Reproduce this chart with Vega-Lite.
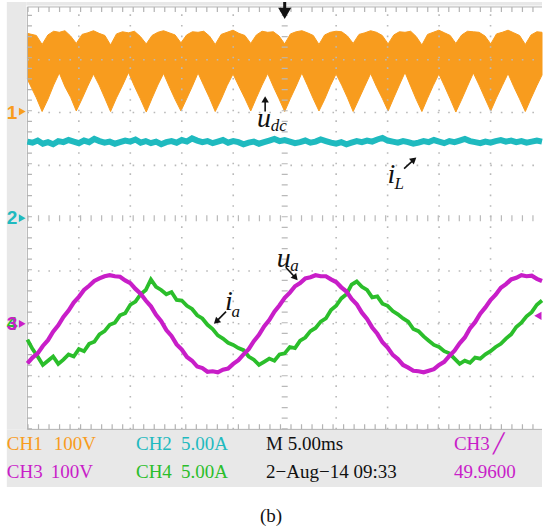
{
  "$schema": "https://vega.github.io/schema/vega-lite/v6.json",
  "width": 554,
  "height": 529,
  "autosize": {"type": "fit", "contains": "padding"},
  "padding": 0,
  "background": "#ffffff",
  "config": {"view": {"stroke": null}},
  "datasets": {
    "udc": [
      {"t":0,"hi":3.50,"lo":2.63},{"t":0.87,"hi":3.46,"lo":2.28},{"t":1.43,"hi":3.29,"lo":2.02},{"t":1.99,"hi":3.47,"lo":2.25},
      {"t":2.55,"hi":3.54,"lo":2.52},{"t":3.10,"hi":3.52,"lo":2.75},{"t":3.65,"hi":3.55,"lo":2.49},{"t":4.20,"hi":3.45,"lo":2.29},
      {"t":4.75,"hi":3.31,"lo":2.03},{"t":5.31,"hi":3.48,"lo":2.26},{"t":5.86,"hi":3.51,"lo":2.50},{"t":6.42,"hi":3.55,"lo":2.73},
      {"t":6.97,"hi":3.50,"lo":2.52},{"t":7.53,"hi":3.46,"lo":2.27},{"t":8.08,"hi":3.28,"lo":2.02},{"t":8.66,"hi":3.49,"lo":2.28},
      {"t":9.24,"hi":3.53,"lo":2.51},{"t":9.82,"hi":3.51,"lo":2.76},{"t":10.40,"hi":3.54,"lo":2.50},{"t":10.98,"hi":3.44,"lo":2.26},
      {"t":11.55,"hi":3.30,"lo":2.01},{"t":12.11,"hi":3.46,"lo":2.27},{"t":12.67,"hi":3.52,"lo":2.52},{"t":13.23,"hi":3.55,"lo":2.74},
      {"t":13.79,"hi":3.51,"lo":2.49},{"t":14.35,"hi":3.47,"lo":2.25},{"t":14.92,"hi":3.32,"lo":2.03},{"t":15.47,"hi":3.47,"lo":2.26},
      {"t":16.03,"hi":3.53,"lo":2.50},{"t":16.58,"hi":3.52,"lo":2.75},{"t":17.14,"hi":3.54,"lo":2.51},{"t":17.69,"hi":3.45,"lo":2.28},
      {"t":18.25,"hi":3.29,"lo":2.02},{"t":18.83,"hi":3.48,"lo":2.25},{"t":19.40,"hi":3.52,"lo":2.51},{"t":19.98,"hi":3.56,"lo":2.73},
      {"t":20.55,"hi":3.50,"lo":2.50},{"t":21.13,"hi":3.46,"lo":2.27},{"t":21.70,"hi":3.31,"lo":2.03},{"t":22.25,"hi":3.47,"lo":2.28},
      {"t":22.80,"hi":3.54,"lo":2.52},{"t":23.35,"hi":3.52,"lo":2.74},{"t":23.90,"hi":3.53,"lo":2.49},{"t":24.45,"hi":3.45,"lo":2.26},
      {"t":25.00,"hi":3.30,"lo":2.02},{"t":25.56,"hi":3.49,"lo":2.27},{"t":26.11,"hi":3.53,"lo":2.50},{"t":26.67,"hi":3.55,"lo":2.75},
      {"t":27.22,"hi":3.51,"lo":2.51},{"t":27.78,"hi":3.46,"lo":2.26},{"t":28.33,"hi":3.29,"lo":2.03},{"t":28.88,"hi":3.47,"lo":2.25},
      {"t":29.44,"hi":3.52,"lo":2.51},{"t":29.99,"hi":3.54,"lo":2.73},{"t":30.54,"hi":3.53,"lo":2.52},{"t":31.10,"hi":3.45,"lo":2.28},
      {"t":31.65,"hi":3.31,"lo":2.02},{"t":32.22,"hi":3.48,"lo":2.26},{"t":32.78,"hi":3.51,"lo":2.50},{"t":33.35,"hi":3.55,"lo":2.74},
      {"t":33.92,"hi":3.52,"lo":2.49},{"t":34.48,"hi":3.46,"lo":2.27},{"t":35.05,"hi":3.30,"lo":2.03},{"t":35.60,"hi":3.47,"lo":2.28},
      {"t":36.14,"hi":3.53,"lo":2.52},{"t":36.69,"hi":3.52,"lo":2.76},{"t":37.24,"hi":3.54,"lo":2.50},{"t":37.78,"hi":3.44,"lo":2.25},
      {"t":38.33,"hi":3.28,"lo":2.02},{"t":38.88,"hi":3.48,"lo":2.27},{"t":39.43,"hi":3.52,"lo":2.51},{"t":39.98,"hi":3.56,"lo":2.73},
      {"t":40.53,"hi":3.51,"lo":2.50},{"t":41.08,"hi":3.46,"lo":2.26},{"t":41.63,"hi":3.31,"lo":2.01},{"t":42.20,"hi":3.47,"lo":2.25},
      {"t":42.76,"hi":3.54,"lo":2.50},{"t":43.33,"hi":3.53,"lo":2.75},{"t":43.89,"hi":3.52,"lo":2.52},{"t":44.46,"hi":3.45,"lo":2.27},
      {"t":45.02,"hi":3.30,"lo":2.03},{"t":45.58,"hi":3.49,"lo":2.28},{"t":46.14,"hi":3.52,"lo":2.51},{"t":46.70,"hi":3.56,"lo":2.74},
      {"t":47.26,"hi":3.51,"lo":2.49},{"t":47.82,"hi":3.46,"lo":2.26},{"t":48.38,"hi":3.29,"lo":2.02},{"t":48.94,"hi":3.47,"lo":2.27},
      {"t":49.50,"hi":3.53,"lo":2.51},{"t":50.00,"hi":3.52,"lo":2.71}
    ],
    "iL": [
      {"t":0,"v":1.45},{"t":0.5,"v":1.43},{"t":1,"v":1.47},{"t":1.5,"v":1.41},{"t":2,"v":1.44},{"t":2.5,"v":1.40},{"t":3,"v":1.46},{"t":3.5,"v":1.44},{"t":4,"v":1.48},{"t":4.5,"v":1.45},
      {"t":5,"v":1.42},{"t":5.5,"v":1.47},{"t":6,"v":1.44},{"t":6.5,"v":1.50},{"t":7,"v":1.46},{"t":7.5,"v":1.43},{"t":8,"v":1.45},{"t":8.5,"v":1.41},{"t":9,"v":1.44},{"t":9.5,"v":1.47},
      {"t":10,"v":1.45},{"t":10.5,"v":1.49},{"t":11,"v":1.43},{"t":11.5,"v":1.46},{"t":12,"v":1.42},{"t":12.5,"v":1.45},{"t":13,"v":1.40},{"t":13.5,"v":1.44},{"t":14,"v":1.46},{"t":14.5,"v":1.43},
      {"t":15,"v":1.48},{"t":15.5,"v":1.45},{"t":16,"v":1.51},{"t":16.5,"v":1.47},{"t":17,"v":1.44},{"t":17.5,"v":1.46},{"t":18,"v":1.42},{"t":18.5,"v":1.45},{"t":19,"v":1.48},{"t":19.5,"v":1.43},
      {"t":20,"v":1.46},{"t":20.5,"v":1.44},{"t":21,"v":1.40},{"t":21.5,"v":1.43},{"t":22,"v":1.45},{"t":22.5,"v":1.41},{"t":23,"v":1.44},{"t":23.5,"v":1.47},{"t":24,"v":1.50},{"t":24.5,"v":1.46},
      {"t":25,"v":1.48},{"t":25.5,"v":1.45},{"t":26,"v":1.42},{"t":26.5,"v":1.44},{"t":27,"v":1.47},{"t":27.5,"v":1.43},{"t":28,"v":1.45},{"t":28.5,"v":1.49},{"t":29,"v":1.46},{"t":29.5,"v":1.43},
      {"t":30,"v":1.41},{"t":30.5,"v":1.44},{"t":31,"v":1.40},{"t":31.5,"v":1.43},{"t":32,"v":1.46},{"t":32.5,"v":1.44},{"t":33,"v":1.47},{"t":33.5,"v":1.45},{"t":34,"v":1.49},{"t":34.5,"v":1.52},
      {"t":35,"v":1.47},{"t":35.5,"v":1.45},{"t":36,"v":1.43},{"t":36.5,"v":1.46},{"t":37,"v":1.44},{"t":37.5,"v":1.41},{"t":38,"v":1.43},{"t":38.5,"v":1.46},{"t":39,"v":1.44},{"t":39.5,"v":1.48},
      {"t":40,"v":1.45},{"t":40.5,"v":1.42},{"t":41,"v":1.46},{"t":41.5,"v":1.44},{"t":42,"v":1.47},{"t":42.5,"v":1.50},{"t":43,"v":1.46},{"t":43.5,"v":1.44},{"t":44,"v":1.42},{"t":44.5,"v":1.45},
      {"t":45,"v":1.43},{"t":45.5,"v":1.46},{"t":46,"v":1.48},{"t":46.5,"v":1.45},{"t":47,"v":1.47},{"t":47.5,"v":1.44},{"t":48,"v":1.46},{"t":48.5,"v":1.43},{"t":49,"v":1.45},{"t":49.5,"v":1.47},
      {"t":50,"v":1.45}
    ],
    "ua": [
      {"t":0,"v":-2.75},{"t":0.5,"v":-2.64},{"t":1,"v":-2.56},{"t":1.5,"v":-2.42},{"t":2,"v":-2.31},{"t":2.5,"v":-2.15},{"t":3,"v":-2.03},{"t":3.5,"v":-1.87},{"t":4,"v":-1.75},{"t":4.5,"v":-1.60},
      {"t":5,"v":-1.49},{"t":5.5,"v":-1.36},{"t":6,"v":-1.28},{"t":6.5,"v":-1.19},{"t":7,"v":-1.14},{"t":7.5,"v":-1.10},{"t":8,"v":-1.08},{"t":8.5,"v":-1.10},{"t":9,"v":-1.11},{"t":9.5,"v":-1.18},
      {"t":10,"v":-1.23},{"t":10.5,"v":-1.34},{"t":11,"v":-1.43},{"t":11.5,"v":-1.56},{"t":12,"v":-1.67},{"t":12.5,"v":-1.83},{"t":13,"v":-1.95},{"t":13.5,"v":-2.12},{"t":14,"v":-2.23},{"t":14.5,"v":-2.39},
      {"t":15,"v":-2.49},{"t":15.5,"v":-2.63},{"t":16,"v":-2.70},{"t":16.5,"v":-2.81},{"t":17,"v":-2.84},{"t":17.5,"v":-2.91},{"t":18,"v":-2.90},{"t":18.5,"v":-2.92},{"t":19,"v":-2.87},{"t":19.5,"v":-2.85},
      {"t":20,"v":-2.76},{"t":20.5,"v":-2.69},{"t":21,"v":-2.58},{"t":21.5,"v":-2.48},{"t":22,"v":-2.33},{"t":22.5,"v":-2.21},{"t":23,"v":-2.05},{"t":23.5,"v":-1.93},{"t":24,"v":-1.77},{"t":24.5,"v":-1.65},
      {"t":25,"v":-1.51},{"t":25.5,"v":-1.41},{"t":26,"v":-1.29},{"t":26.5,"v":-1.23},{"t":27,"v":-1.14},{"t":27.5,"v":-1.12},{"t":28,"v":-1.08},{"t":28.5,"v":-1.10},{"t":29,"v":-1.10},{"t":29.5,"v":-1.16},
      {"t":30,"v":-1.21},{"t":30.5,"v":-1.31},{"t":31,"v":-1.39},{"t":31.5,"v":-1.53},{"t":32,"v":-1.63},{"t":32.5,"v":-1.79},{"t":33,"v":-1.91},{"t":33.5,"v":-2.07},{"t":34,"v":-2.19},{"t":34.5,"v":-2.35},
      {"t":35,"v":-2.45},{"t":35.5,"v":-2.59},{"t":36,"v":-2.67},{"t":36.5,"v":-2.78},{"t":37,"v":-2.83},{"t":37.5,"v":-2.89},{"t":38,"v":-2.90},{"t":38.5,"v":-2.92},{"t":39,"v":-2.89},{"t":39.5,"v":-2.86},
      {"t":40,"v":-2.78},{"t":40.5,"v":-2.72},{"t":41,"v":-2.61},{"t":41.5,"v":-2.51},{"t":42,"v":-2.37},{"t":42.5,"v":-2.26},{"t":43,"v":-2.09},{"t":43.5,"v":-1.97},{"t":44,"v":-1.81},{"t":44.5,"v":-1.69},
      {"t":45,"v":-1.55},{"t":45.5,"v":-1.45},{"t":46,"v":-1.32},{"t":46.5,"v":-1.25},{"t":47,"v":-1.16},{"t":47.5,"v":-1.13},{"t":48,"v":-1.08},{"t":48.5,"v":-1.10},{"t":49,"v":-1.09},{"t":49.5,"v":-1.15},
      {"t":50,"v":-1.19}
    ],
    "ia": [
      {"t":0,"v":-2.30},{"t":0.5,"v":-2.48},{"t":1,"v":-2.62},{"t":1.5,"v":-2.78},{"t":2,"v":-2.70},{"t":2.5,"v":-2.62},{"t":3,"v":-2.76},{"t":3.5,"v":-2.68},{"t":4,"v":-2.58},{"t":4.5,"v":-2.62},
      {"t":5,"v":-2.48},{"t":5.5,"v":-2.52},{"t":6,"v":-2.38},{"t":6.5,"v":-2.34},{"t":7,"v":-2.20},{"t":7.5,"v":-2.14},{"t":8,"v":-2.02},{"t":8.5,"v":-1.98},{"t":9,"v":-1.84},{"t":9.5,"v":-1.80},
      {"t":10,"v":-1.64},{"t":10.5,"v":-1.58},{"t":11,"v":-1.44},{"t":11.5,"v":-1.36},{"t":12,"v":-1.16},{"t":12.5,"v":-1.30},{"t":13,"v":-1.36},{"t":13.5,"v":-1.44},{"t":14,"v":-1.40},{"t":14.5,"v":-1.55},
      {"t":15,"v":-1.56},{"t":15.5,"v":-1.66},{"t":16,"v":-1.72},{"t":16.5,"v":-1.84},{"t":17,"v":-1.90},{"t":17.5,"v":-2.02},{"t":18,"v":-2.10},{"t":18.5,"v":-2.22},{"t":19,"v":-2.28},{"t":19.5,"v":-2.36},
      {"t":20,"v":-2.40},{"t":20.5,"v":-2.46},{"t":21,"v":-2.50},{"t":21.5,"v":-2.62},{"t":22,"v":-2.68},{"t":22.5,"v":-2.78},{"t":23,"v":-2.72},{"t":23.5,"v":-2.66},{"t":24,"v":-2.70},{"t":24.5,"v":-2.58},
      {"t":25,"v":-2.56},{"t":25.5,"v":-2.44},{"t":26,"v":-2.46},{"t":26.5,"v":-2.32},{"t":27,"v":-2.26},{"t":27.5,"v":-2.14},{"t":28,"v":-2.08},{"t":28.5,"v":-1.96},{"t":29,"v":-1.90},{"t":29.5,"v":-1.74},
      {"t":30,"v":-1.66},{"t":30.5,"v":-1.52},{"t":31,"v":-1.44},{"t":31.5,"v":-1.26},{"t":32,"v":-1.20},{"t":32.5,"v":-1.30},{"t":33,"v":-1.36},{"t":33.5,"v":-1.50},{"t":34,"v":-1.48},{"t":34.5,"v":-1.62},
      {"t":35,"v":-1.66},{"t":35.5,"v":-1.76},{"t":36,"v":-1.82},{"t":36.5,"v":-1.90},{"t":37,"v":-1.96},{"t":37.5,"v":-2.10},{"t":38,"v":-2.14},{"t":38.5,"v":-2.24},{"t":39,"v":-2.32},{"t":39.5,"v":-2.40},
      {"t":40,"v":-2.44},{"t":40.5,"v":-2.52},{"t":41,"v":-2.56},{"t":41.5,"v":-2.66},{"t":42,"v":-2.76},{"t":42.5,"v":-2.70},{"t":43,"v":-2.74},{"t":43.5,"v":-2.64},{"t":44,"v":-2.66},{"t":44.5,"v":-2.58},
      {"t":45,"v":-2.52},{"t":45.5,"v":-2.44},{"t":46,"v":-2.38},{"t":46.5,"v":-2.28},{"t":47,"v":-2.20},{"t":47.5,"v":-2.06},{"t":48,"v":-1.98},{"t":48.5,"v":-1.86},{"t":49,"v":-1.78},{"t":49.5,"v":-1.64},
      {"t":50,"v":-1.56}
    ],
    "panes": [
      {"t":-2.0,"t2":-0.1,"d":4.094,"d2":-4.0},
      {"t":-2.0,"t2":50,"d":-4.0,"d2":-5.09},
      {"t":-0.1,"t2":50,"d":4.094,"d2":4.03}
    ],
    "gridV": [{"t":5},{"t":10},{"t":15},{"t":20},{"t":30},{"t":35},{"t":40},{"t":45}],
    "gridH": [{"d":3},{"d":2},{"d":1},{"d":-1},{"d":-2},{"d":-3}],
    "markers": [
      {"t":-1.5,"d":2.0,"s":"1","ch":"CH1"},
      {"t":-1.5,"d":0.0,"s":"2","ch":"CH2"},
      {"t":-1.5,"d":-2.0,"s":"4","ch":"CH4"},
      {"t":-1.5,"d":-2.0,"s":"3","ch":"CH3"}
    ],
    "markerHeads": [
      {"t":-0.5,"d":2.02,"ch":"CH1"},
      {"t":-0.5,"d":0.0,"ch":"CH2"},
      {"t":-0.5,"d":-2.0,"ch":"CH3"}
    ],
    "status": [
      {"t":-2.0,"d":-4.40,"s":"CH1","ch":"CH1"},
      {"t":2.57,"d":-4.40,"s":"100V","ch":"CH1"},
      {"t":10.55,"d":-4.40,"s":"CH2","ch":"CH2"},
      {"t":14.92,"d":-4.40,"s":"5.00A","ch":"CH2"},
      {"t":23.19,"d":-4.40,"s":"M 5.00ms","ch":"none"},
      {"t":41.44,"d":-4.40,"s":"CH3","ch":"CH3"},
      {"t":45.2,"d":-4.40,"s":"╱","ch":"CH3"},
      {"t":-2.0,"d":-4.93,"s":"CH3","ch":"CH3"},
      {"t":2.28,"d":-4.93,"s":"100V","ch":"CH3"},
      {"t":10.55,"d":-4.93,"s":"CH4","ch":"CH4"},
      {"t":14.92,"d":-4.93,"s":"5.00A","ch":"CH4"},
      {"t":23.19,"d":-4.93,"s":"2−Aug−14 09:33","ch":"none"},
      {"t":41.44,"d":-4.93,"s":"49.9600","ch":"CH3"}
    ],
    "shafts": [
      {"t":23.10,"d":2.02,"t2":23.10,"d2":2.23},
      {"t":36.60,"d":0.94,"t2":37.45,"d2":1.09},
      {"t":19.30,"d":-1.77,"t2":18.44,"d2":-1.94},
      {"t":25.10,"d":-0.93,"t2":25.95,"d2":-1.11}
    ],
    "heads": [
      {"t":23.10,"d":2.25,"ang":0},
      {"t":37.55,"d":1.11,"ang":50},
      {"t":18.35,"d":-1.96,"ang":227},
      {"t":26.05,"d":-1.13,"ang":139}
    ],
    "symbols": [
      {"t":23.0,"d":1.87,"s":"u"},
      {"t":35.36,"d":0.81,"s":"i"},
      {"t":19.58,"d":-1.58,"s":"i"},
      {"t":24.90,"d":-0.77,"s":"u"}
    ],
    "subs": [
      {"t":24.43,"d":1.75,"s":"dc"},
      {"t":36.12,"d":0.64,"s":"L"},
      {"t":20.25,"d":-1.77,"s":"a"},
      {"t":25.95,"d":-0.90,"s":"a"}
    ]
  },
  "layer": [
    {
      "data": {"name": "panes"},
      "mark": {"type": "rect", "color": "#e8e8e8"},
      "encoding": {
        "x": {"field": "t", "type": "quantitative", "scale": {"domain": [-2.662, 50], "nice": false, "zero": false}, "axis": null},
        "x2": {"field": "t2"},
        "y": {"field": "d", "type": "quantitative", "scale": {"domain": [-5.887, 4.094], "nice": false, "zero": false}, "axis": null},
        "y2": {"field": "d2"}
      }
    },
    {
      "data": {"name": "udc"},
      "mark": {"type": "area", "color": "#F89C1E", "stroke": "#F89C1E", "strokeWidth": 1},
      "encoding": {
        "x": {"field": "t", "type": "quantitative", "scale": {"domain": [-2.662, 50], "nice": false, "zero": false}, "axis": null},
        "y": {"field": "hi", "type": "quantitative", "scale": {"domain": [-5.887, 4.094], "nice": false, "zero": false}, "axis": null},
        "y2": {"field": "lo"}
      }
    },
    {
      "data": {"name": "gridV"},
      "mark": {"type": "rule", "color": "#b9b9b9", "strokeWidth": 1.6, "strokeDash": [1.6, 9.0]},
      "encoding": {
        "x": {"field": "t", "type": "quantitative", "scale": {"domain": [-2.662, 50], "nice": false, "zero": false}, "axis": null},
        "y": {"datum": -4, "type": "quantitative", "scale": {"domain": [-5.887, 4.094], "nice": false, "zero": false}, "axis": null},
        "y2": {"datum": 4}
      }
    },
    {
      "data": {"name": "gridH"},
      "mark": {"type": "rule", "color": "#b9b9b9", "strokeWidth": 1.6, "strokeDash": [1.6, 8.92]},
      "encoding": {
        "y": {"field": "d", "type": "quantitative", "scale": {"domain": [-5.887, 4.094], "nice": false, "zero": false}, "axis": null},
        "x": {"datum": 0, "type": "quantitative", "scale": {"domain": [-2.662, 50], "nice": false, "zero": false}, "axis": null},
        "x2": {"datum": 50}
      }
    },
    {
      "data": {"values": [{"t": 25}]},
      "mark": {"type": "rule", "color": "#b9b9b9", "strokeWidth": 6, "strokeDash": [1.2, 9.4]},
      "encoding": {
        "x": {"field": "t", "type": "quantitative", "scale": {"domain": [-2.662, 50], "nice": false, "zero": false}, "axis": null},
        "y": {"datum": -4, "type": "quantitative", "scale": {"domain": [-5.887, 4.094], "nice": false, "zero": false}, "axis": null},
        "y2": {"datum": 4}
      }
    },
    {
      "data": {"values": [{"d": 0}]},
      "mark": {"type": "rule", "color": "#b9b9b9", "strokeWidth": 6, "strokeDash": [1.2, 9.32]},
      "encoding": {
        "y": {"field": "d", "type": "quantitative", "scale": {"domain": [-5.887, 4.094], "nice": false, "zero": false}, "axis": null},
        "x": {"datum": 0, "type": "quantitative", "scale": {"domain": [-2.662, 50], "nice": false, "zero": false}, "axis": null},
        "x2": {"datum": 50}
      }
    },
    {
      "data": {"values": [{"t": 0}]},
      "mark": {"type": "rule", "color": "#b3b3b3", "strokeWidth": 1},
      "encoding": {
        "x": {"field": "t", "type": "quantitative", "scale": {"domain": [-2.662, 50], "nice": false, "zero": false}, "axis": null},
        "y": {"datum": -4, "type": "quantitative", "scale": {"domain": [-5.887, 4.094], "nice": false, "zero": false}, "axis": null},
        "y2": {"datum": 4}
      }
    },
    {
      "data": {"values": [{"t": 0.2}]},
      "mark": {"type": "rule", "color": "#b3b3b3", "strokeWidth": 5, "strokeDash": [1.2, 9.4]},
      "encoding": {
        "x": {"field": "t", "type": "quantitative", "scale": {"domain": [-2.662, 50], "nice": false, "zero": false}, "axis": null},
        "y": {"datum": -4, "type": "quantitative", "scale": {"domain": [-5.887, 4.094], "nice": false, "zero": false}, "axis": null},
        "y2": {"datum": 4}
      }
    },
    {
      "data": {"values": [{"d": 4.0}, {"d": -4.0}]},
      "mark": {"type": "rule", "color": "#b3b3b3", "strokeWidth": 1},
      "encoding": {
        "y": {"field": "d", "type": "quantitative", "scale": {"domain": [-5.887, 4.094], "nice": false, "zero": false}, "axis": null},
        "x": {"datum": 0, "type": "quantitative", "scale": {"domain": [-2.662, 50], "nice": false, "zero": false}, "axis": null},
        "x2": {"datum": 50}
      }
    },
    {
      "data": {"values": [{"d": 3.95}, {"d": -3.95}]},
      "mark": {"type": "rule", "color": "#b3b3b3", "strokeWidth": 5, "strokeDash": [1.2, 9.32]},
      "encoding": {
        "y": {"field": "d", "type": "quantitative", "scale": {"domain": [-5.887, 4.094], "nice": false, "zero": false}, "axis": null},
        "x": {"datum": 0, "type": "quantitative", "scale": {"domain": [-2.662, 50], "nice": false, "zero": false}, "axis": null},
        "x2": {"datum": 50}
      }
    },
    {
      "data": {"name": "iL"},
      "mark": {"type": "line", "color": "#1FBABF", "strokeWidth": 6},
      "encoding": {
        "x": {"field": "t", "type": "quantitative", "scale": {"domain": [-2.662, 50], "nice": false, "zero": false}, "axis": null},
        "y": {"field": "v", "type": "quantitative", "scale": {"domain": [-5.887, 4.094], "nice": false, "zero": false}, "axis": null}
      }
    },
    {
      "data": {"name": "ia"},
      "mark": {"type": "line", "color": "#2BBE2B", "strokeWidth": 3.8},
      "encoding": {
        "x": {"field": "t", "type": "quantitative", "scale": {"domain": [-2.662, 50], "nice": false, "zero": false}, "axis": null},
        "y": {"field": "v", "type": "quantitative", "scale": {"domain": [-5.887, 4.094], "nice": false, "zero": false}, "axis": null}
      }
    },
    {
      "data": {"name": "ua"},
      "mark": {"type": "line", "color": "#C81EC8", "strokeWidth": 4.2},
      "encoding": {
        "x": {"field": "t", "type": "quantitative", "scale": {"domain": [-2.662, 50], "nice": false, "zero": false}, "axis": null},
        "y": {"field": "v", "type": "quantitative", "scale": {"domain": [-5.887, 4.094], "nice": false, "zero": false}, "axis": null}
      }
    },
    {
      "data": {"name": "markers"},
      "mark": {"type": "text", "font": "Liberation Sans", "fontSize": 19, "fontWeight": "bold", "baseline": "middle", "align": "center"},
      "encoding": {
        "x": {"field": "t", "type": "quantitative", "scale": {"domain": [-2.662, 50], "nice": false, "zero": false}, "axis": null},
        "y": {"field": "d", "type": "quantitative", "scale": {"domain": [-5.887, 4.094], "nice": false, "zero": false}, "axis": null},
        "text": {"field": "s"},
        "color": {"field": "ch", "type": "nominal", "scale": {"domain": ["CH1", "CH2", "CH3", "CH4", "none"], "range": ["#F89C1E", "#1FBABF", "#C81EC8", "#2BBE2B", "#111111"]}, "legend": null}
      }
    },
    {
      "data": {"name": "markerHeads"},
      "mark": {"type": "point", "shape": "triangle-right", "filled": true, "size": 60, "opacity": 1},
      "encoding": {
        "x": {"field": "t", "type": "quantitative", "scale": {"domain": [-2.662, 50], "nice": false, "zero": false}, "axis": null},
        "y": {"field": "d", "type": "quantitative", "scale": {"domain": [-5.887, 4.094], "nice": false, "zero": false}, "axis": null},
        "color": {"field": "ch", "type": "nominal", "scale": {"domain": ["CH1", "CH2", "CH3", "CH4", "none"], "range": ["#F89C1E", "#1FBABF", "#C81EC8", "#2BBE2B", "#111111"]}, "legend": null}
      }
    },
    {
      "data": {"values": [{"t": 49.6, "d": -1.85}]},
      "mark": {"type": "point", "shape": "triangle-left", "filled": true, "size": 70, "color": "#C81EC8", "opacity": 1},
      "encoding": {
        "x": {"field": "t", "type": "quantitative", "scale": {"domain": [-2.662, 50], "nice": false, "zero": false}, "axis": null},
        "y": {"field": "d", "type": "quantitative", "scale": {"domain": [-5.887, 4.094], "nice": false, "zero": false}, "axis": null}
      }
    },
    {
      "data": {"values": [{"t": 25, "d": 4.094, "d2": 3.93}]},
      "mark": {"type": "rule", "color": "#111111", "strokeWidth": 3},
      "encoding": {
        "x": {"field": "t", "type": "quantitative", "scale": {"domain": [-2.662, 50], "nice": false, "zero": false}, "axis": null},
        "y": {"field": "d", "type": "quantitative", "scale": {"domain": [-5.887, 4.094], "nice": false, "zero": false}, "axis": null},
        "y2": {"field": "d2"}
      }
    },
    {
      "data": {"values": [{"t": 25, "d": 3.88}]},
      "mark": {"type": "point", "shape": "triangle-down", "filled": true, "size": 170, "color": "#111111", "opacity": 1},
      "encoding": {
        "x": {"field": "t", "type": "quantitative", "scale": {"domain": [-2.662, 50], "nice": false, "zero": false}, "axis": null},
        "y": {"field": "d", "type": "quantitative", "scale": {"domain": [-5.887, 4.094], "nice": false, "zero": false}, "axis": null}
      }
    },
    {
      "data": {"name": "shafts"},
      "mark": {"type": "rule", "color": "#111111", "strokeWidth": 1.6},
      "encoding": {
        "x": {"field": "t", "type": "quantitative", "scale": {"domain": [-2.662, 50], "nice": false, "zero": false}, "axis": null},
        "y": {"field": "d", "type": "quantitative", "scale": {"domain": [-5.887, 4.094], "nice": false, "zero": false}, "axis": null},
        "x2": {"field": "t2"},
        "y2": {"field": "d2"}
      }
    },
    {
      "data": {"name": "heads"},
      "mark": {"type": "point", "shape": "triangle-up", "filled": true, "size": 55, "color": "#111111", "opacity": 1},
      "encoding": {
        "x": {"field": "t", "type": "quantitative", "scale": {"domain": [-2.662, 50], "nice": false, "zero": false}, "axis": null},
        "y": {"field": "d", "type": "quantitative", "scale": {"domain": [-5.887, 4.094], "nice": false, "zero": false}, "axis": null},
        "angle": {"field": "ang", "type": "quantitative", "scale": null}
      }
    },
    {
      "data": {"name": "symbols"},
      "mark": {"type": "text", "font": "Liberation Serif", "fontStyle": "italic", "fontSize": 28, "color": "#111111", "baseline": "middle", "align": "center"},
      "encoding": {
        "x": {"field": "t", "type": "quantitative", "scale": {"domain": [-2.662, 50], "nice": false, "zero": false}, "axis": null},
        "y": {"field": "d", "type": "quantitative", "scale": {"domain": [-5.887, 4.094], "nice": false, "zero": false}, "axis": null},
        "text": {"field": "s"}
      }
    },
    {
      "data": {"name": "subs"},
      "mark": {"type": "text", "font": "Liberation Serif", "fontStyle": "italic", "fontSize": 17, "color": "#111111", "baseline": "middle", "align": "center"},
      "encoding": {
        "x": {"field": "t", "type": "quantitative", "scale": {"domain": [-2.662, 50], "nice": false, "zero": false}, "axis": null},
        "y": {"field": "d", "type": "quantitative", "scale": {"domain": [-5.887, 4.094], "nice": false, "zero": false}, "axis": null},
        "text": {"field": "s"}
      }
    },
    {
      "data": {"name": "status"},
      "mark": {"type": "text", "font": "Liberation Sans Narrow", "fontSize": 19, "baseline": "alphabetic", "align": "left"},
      "encoding": {
        "x": {"field": "t", "type": "quantitative", "scale": {"domain": [-2.662, 50], "nice": false, "zero": false}, "axis": null},
        "y": {"field": "d", "type": "quantitative", "scale": {"domain": [-5.887, 4.094], "nice": false, "zero": false}, "axis": null},
        "text": {"field": "s"},
        "color": {"field": "ch", "type": "nominal", "scale": {"domain": ["CH1", "CH2", "CH3", "CH4", "none"], "range": ["#F89C1E", "#1FBABF", "#C81EC8", "#2BBE2B", "#111111"]}, "legend": null}
      }
    },
    {
      "data": {"values": [{"t": 23.67, "d": -5.76, "s": "(b)"}]},
      "mark": {"type": "text", "font": "Liberation Serif", "fontSize": 19, "color": "#111111", "baseline": "alphabetic", "align": "center"},
      "encoding": {
        "x": {"field": "t", "type": "quantitative", "scale": {"domain": [-2.662, 50], "nice": false, "zero": false}, "axis": null},
        "y": {"field": "d", "type": "quantitative", "scale": {"domain": [-5.887, 4.094], "nice": false, "zero": false}, "axis": null},
        "text": {"field": "s"}
      }
    }
  ]
}
